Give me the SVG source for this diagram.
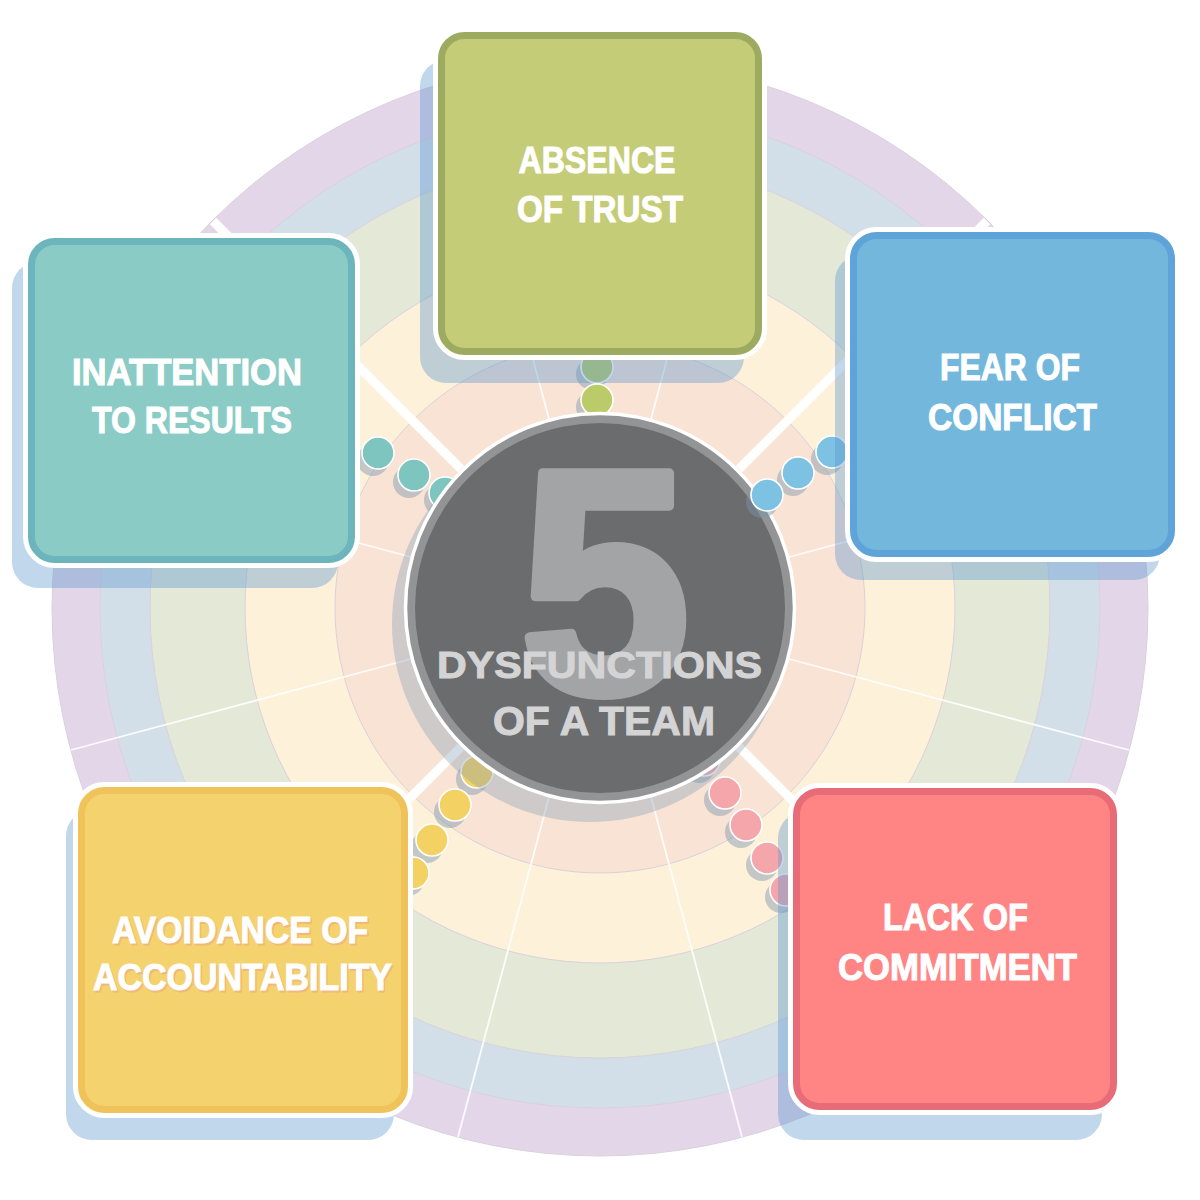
<svg xmlns="http://www.w3.org/2000/svg" width="1200" height="1200" viewBox="0 0 1200 1200">
<style>
.ring{stroke:#d9d2dc;stroke-width:1}
.thin{stroke:#ffffff;stroke-width:1.8;opacity:.9}
.thick{stroke:#ffffff;stroke-width:9}
.dsh{fill:#7c95ad;opacity:.45}
.dot{stroke:#ffffff;stroke-width:1.6}
.bsh{fill:#5a96cd;opacity:.38}
.bw{fill:#ffffff;stroke:#ffffff;stroke-width:17}
.lbl{font-family:"Liberation Sans",Arial,sans-serif;font-weight:bold;font-size:36px;fill:#ffffff;stroke:#ffffff;stroke-width:1;text-anchor:middle}
.ctr{font-family:"Liberation Sans",Arial,sans-serif;font-weight:bold;fill:#d4d4d5;stroke:#d4d4d5;stroke-width:1;text-anchor:middle}
</style>
<rect width="1200" height="1200" fill="#ffffff"/>
<g id="rings">
<circle cx="600" cy="608" r="548" fill="#e3d6e8" class="ring"/>
<circle cx="600" cy="608" r="500" fill="#d3dfe8" class="ring"/>
<circle cx="600" cy="608" r="450" fill="#e3e8d7" class="ring"/>
<circle cx="600" cy="608" r="355" fill="#fdf1da" class="ring"/>
<circle cx="600" cy="608" r="265" fill="#f9e3d4" class="ring"/>
</g>
<g id="spokes">
<line class="thin" x1="789" y1="659" x2="1129" y2="750"/>
<line class="thin" x1="651" y1="797" x2="742" y2="1137"/>
<line class="thin" x1="549" y1="797" x2="458" y2="1137"/>
<line class="thin" x1="411" y1="659" x2="71" y2="750"/>
<line class="thin" x1="411" y1="557" x2="71" y2="466"/>
<line class="thin" x1="549" y1="419" x2="458" y2="79"/>
<line class="thin" x1="651" y1="419" x2="742" y2="79"/>
<line class="thin" x1="789" y1="557" x2="1129" y2="466"/>
<line class="thick" x1="739" y1="747" x2="987" y2="995"/>
<line class="thick" x1="461" y1="747" x2="213" y2="995"/>
<line class="thick" x1="461" y1="469" x2="213" y2="221"/>
<line class="thick" x1="739" y1="469" x2="987" y2="221"/>
</g>
<g id="connectors">
<g id="dots-trust" fill="#bccb6a">
<circle class="dsh" cx="592" cy="374" r="16"/><circle class="dsh" cx="592" cy="407" r="16"/>
<circle class="dot" cx="597" cy="367" r="16"/><circle class="dot" cx="597" cy="400" r="16"/>
</g>
<g id="dots-results" fill="#7ec5bf">
<circle class="dsh" cx="337" cy="438" r="16"/><circle class="dsh" cx="373" cy="460" r="16"/><circle class="dsh" cx="409" cy="482" r="16"/><circle class="dsh" cx="440" cy="500" r="16"/>
<circle class="dot" cx="342" cy="431" r="16"/><circle class="dot" cx="378" cy="453" r="16"/><circle class="dot" cx="414" cy="475" r="16"/><circle class="dot" cx="445" cy="493" r="16"/>
</g>
<g id="dots-conflict" fill="#7ec2e3">
<circle class="dsh" cx="793" cy="480" r="16"/><circle class="dsh" cx="827" cy="459" r="16"/><circle class="dsh" cx="861" cy="438" r="16"/>
<circle class="dot" cx="798" cy="473" r="16"/><circle class="dot" cx="832" cy="452" r="16"/><circle class="dot" cx="866" cy="431" r="16"/>
</g>
<g id="dots-account" fill="#f4d163">
<circle class="dsh" cx="494" cy="746" r="16"/><circle class="dsh" cx="472" cy="779" r="16"/><circle class="dsh" cx="450" cy="812" r="16"/><circle class="dsh" cx="427" cy="847" r="16"/><circle class="dsh" cx="408" cy="880" r="16"/>
<circle class="dot" cx="499" cy="739" r="16"/><circle class="dot" cx="477" cy="772" r="16"/><circle class="dot" cx="455" cy="805" r="16"/><circle class="dot" cx="432" cy="840" r="16"/><circle class="dot" cx="413" cy="873" r="16"/>
</g>
<g id="dots-commit" fill="#f5a6ab">
<circle class="dsh" cx="699" cy="767" r="16"/><circle class="dsh" cx="720" cy="800" r="16"/><circle class="dsh" cx="741" cy="832" r="16"/><circle class="dsh" cx="762" cy="865" r="16"/><circle class="dsh" cx="781" cy="897" r="16"/>
<circle class="dot" cx="704" cy="760" r="16"/><circle class="dot" cx="725" cy="793" r="16"/><circle class="dot" cx="746" cy="825" r="16"/><circle class="dot" cx="767" cy="858" r="16"/><circle class="dot" cx="786" cy="890" r="16"/>
</g>
</g>
<g id="center">
<circle cx="590" cy="624" r="198" fill="#7f9ab5" opacity=".35"/>
<circle cx="600" cy="608" r="194.5" fill="#939496" stroke="#ffffff" stroke-width="3.5"/>
<circle cx="600" cy="608" r="185" fill="#6b6c6e"/>
<text x="605" y="692" font-family="Liberation Sans,Arial,sans-serif" font-weight="bold" font-size="318" fill="#a3a4a6" stroke="#a3a4a6" stroke-width="10" stroke-linejoin="round" text-anchor="middle" textLength="170" lengthAdjust="spacingAndGlyphs">5</text>
<text class="ctr" x="599.5" y="678" font-size="37" textLength="325" lengthAdjust="spacingAndGlyphs">DYSFUNCTIONS</text>
<text class="ctr" x="604" y="735" font-size="40" textLength="222" lengthAdjust="spacingAndGlyphs">OF A TEAM</text>
</g>
<g id="conflict-inner-dot" fill="#7ec2e3">
<circle class="dsh" cx="762" cy="502" r="16" opacity=".3"/>
<circle class="dot" cx="767" cy="495" r="16"/>
</g>
<g id="node-trust">
<rect class="bsh" x="420" y="60" width="324" height="323" rx="26"/>
<rect class="bw" x="441.5" y="35.5" width="317" height="316" rx="23"/>
<rect x="441.5" y="35.5" width="317" height="316" rx="23" fill="#c5cc78" stroke="#9cab5f" stroke-width="7"/>
<text class="lbl" x="597" y="173" textLength="157" lengthAdjust="spacingAndGlyphs">ABSENCE</text>
<text class="lbl" x="600" y="222" textLength="166" lengthAdjust="spacingAndGlyphs">OF TRUST</text>
</g>
<g id="node-conflict">
<rect class="bsh" x="835" y="255" width="325" height="325" rx="26"/>
<rect class="bw" x="853.5" y="235.5" width="318" height="318" rx="23"/>
<rect x="853.5" y="235.5" width="318" height="318" rx="23" fill="#73b8dc" stroke="#5fa4d9" stroke-width="7"/>
<text class="lbl" x="1010" y="380" textLength="140" lengthAdjust="spacingAndGlyphs">FEAR OF</text>
<text class="lbl" x="1012.5" y="430" textLength="169" lengthAdjust="spacingAndGlyphs">CONFLICT</text>
</g>
<g id="node-results">
<rect class="bsh" x="12" y="262" width="326" height="326" rx="26"/>
<rect class="bw" x="31.5" y="241.5" width="320" height="318" rx="23"/>
<rect x="31.5" y="241.5" width="320" height="318" rx="23" fill="#8accc5" stroke="#6cb5bc" stroke-width="7"/>
<text class="lbl" x="187" y="385" textLength="230" lengthAdjust="spacingAndGlyphs">INATTENTION</text>
<text class="lbl" x="192" y="433" textLength="200" lengthAdjust="spacingAndGlyphs">TO RESULTS</text>
</g>
<g id="node-accountability">
<rect class="bsh" x="66" y="810" width="328" height="330" rx="26"/>
<rect class="bw" x="81.5" y="790.5" width="323" height="319" rx="23"/>
<rect x="81.5" y="790.5" width="323" height="319" rx="23" fill="#f4d36f" stroke="#f0c35a" stroke-width="7"/>
<text class="lbl" x="241.5" y="944.5" style="fill:#f1a783;stroke:#f1a783;opacity:.6" textLength="256" lengthAdjust="spacingAndGlyphs">AVOIDANCE OF</text>
<text class="lbl" x="244" y="991.5" style="fill:#f1a783;stroke:#f1a783;opacity:.6" textLength="299" lengthAdjust="spacingAndGlyphs">ACCOUNTABILITY</text>
<text class="lbl" x="240" y="943" textLength="256" lengthAdjust="spacingAndGlyphs">AVOIDANCE OF</text>
<text class="lbl" x="242.5" y="990" textLength="299" lengthAdjust="spacingAndGlyphs">ACCOUNTABILITY</text>
</g>
<g id="node-commitment">
<rect class="bsh" x="778" y="812" width="324" height="328" rx="26"/>
<rect class="bw" x="796.5" y="791.5" width="317" height="315" rx="23"/>
<rect x="796.5" y="791.5" width="317" height="315" rx="23" fill="#ff8585" stroke="#e86b78" stroke-width="7"/>
<text class="lbl" x="955.5" y="930" textLength="145" lengthAdjust="spacingAndGlyphs">LACK OF</text>
<text class="lbl" x="957.5" y="980" textLength="239" lengthAdjust="spacingAndGlyphs">COMMITMENT</text>
</g>
</svg>
